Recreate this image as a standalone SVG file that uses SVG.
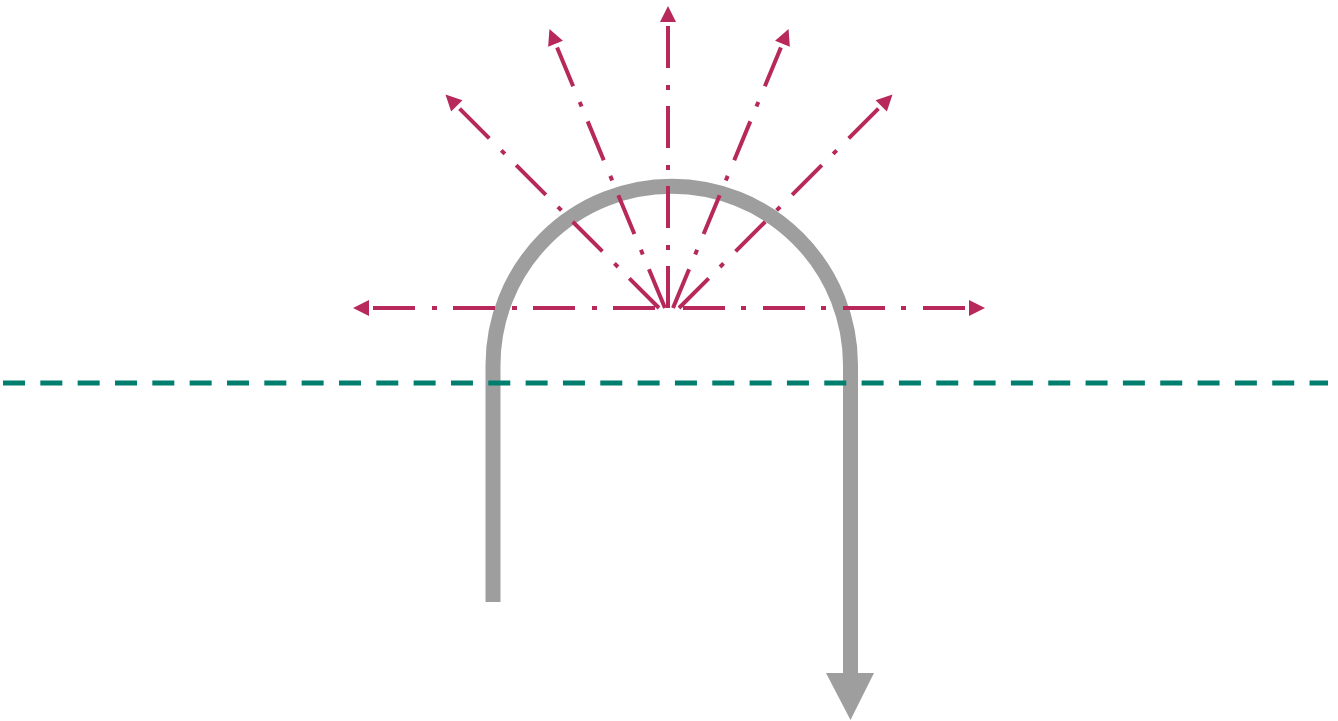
<svg xmlns="http://www.w3.org/2000/svg" width="1338" height="721" viewBox="0 0 1338 721">
<style>
.ray{fill:none;stroke:#b7295b;stroke-width:4;stroke-dasharray:42 16 5 17;marker-end:url(#ah)}
.pipe{fill:none;stroke:#9e9e9e;stroke-width:15}
.axis{stroke:#007f6e;stroke-width:5;stroke-dasharray:22 15.33}
</style>
<defs>
<marker id="ah" markerUnits="userSpaceOnUse" markerWidth="16" markerHeight="16" refX="0" refY="8" orient="auto" overflow="visible">
<path d="M0,0 L16,8 L0,16 z" fill="#b7295b"/>
</marker>
</defs>
<rect width="1338" height="721" fill="#ffffff"/>
<g id="pipe">
<path class="pipe" d="M493,602 L493,365 A178.75,178.75 0 0 1 850.5,365 L850.5,673"/>
<polygon points="826,673 874,673 850.5,720" fill="#9e9e9e"/>
</g>
<g id="axis">
<line class="axis" x1="3" y1="383" x2="1328" y2="383"/>
</g>
<g id="connectors">
<line class="ray" x1="655" y1="308" x2="369" y2="308"/>
<line class="ray" x1="683" y1="308" x2="969" y2="308"/>
<line class="ray" x1="668" y1="308" x2="668" y2="22"/>
<line class="ray" x1="679" y1="308" x2="881.2" y2="105.8"/>
<line class="ray" x1="659" y1="308" x2="456.8" y2="105.8"/>
<line class="ray" x1="673" y1="308" x2="782.45" y2="43.77"/>
<line class="ray" x1="665" y1="308" x2="555.55" y2="43.77"/>
</g>
</svg>
